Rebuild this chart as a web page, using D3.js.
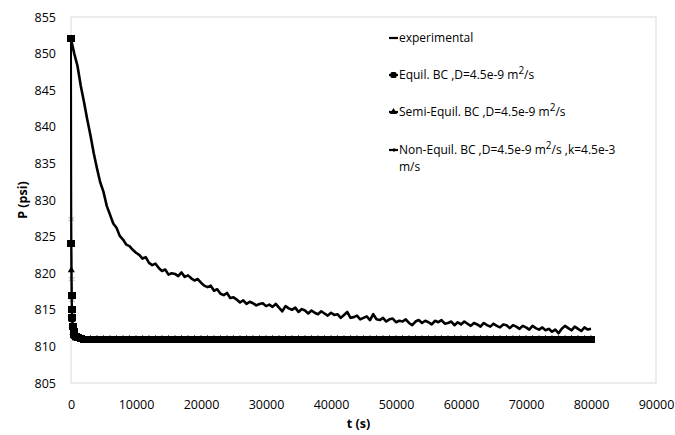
<!DOCTYPE html>
<html>
<head>
<meta charset="utf-8">
<script src="https://cdn.jsdelivr.net/npm/d3@7"></script>
<style>
  body { margin: 0; background: #fff; }
  text { font-family: "Open Sans", sans-serif; }
</style>
</head>
<body>
<div id="chart"></div>
<script>
// experimental pressure record (s, psi)
const expT = [0,500,1000,1500,2000,2500,3000,3500,4000,4500,5000,5500,6000,6500,7000,7500,8000,8500,9000,9500,
  10000,10500,11000,11500,12000,12500,13000,13500,14000,14500,15000,15500,16000,16500,17000,17500,18000,18500,19000,19500,
  20000,20500,21000,21500,22000,22500,23000,23500,24000,24500,25000,25500,26000,26500,27000,27500,28000,28500,29000,29500,
  30000,30500,31000,31500,32000,32500,33000,33500,34000,34500,35000,35500,36000,36500,37000,37500,38000,38500,39000,39500,
  40000,40500,41000,41500,42000,42500,43000,43500,44000,44500,45000,45500,46000,46500,47000,47500,48000,48500,49000,49500,
  50000,50500,51000,51500,52000,52500,53000,53500,54000,54500,55000,55500,56000,56500,57000,57500,58000,58500,59000,59500,
  60000,60500,61000,61500,62000,62500,63000,63500,64000,64500,65000,65500,66000,66500,67000,67500,68000,68500,69000,69500,
  70000,70500,71000,71500,72000,72500,73000,73500,74000,74500,75000,75500,76000,76500,77000,77500,78000,78500,79000,79500,
  80000];
const expP = [852.0,850.0,848.3,845.6,843.4,841.0,838.8,836.4,834.3,832.4,831.1,829.2,828.0,826.8,826.2,825.1,824.6,823.9,823.7,823.2,
  822.8,822.5,822.0,822.2,821.4,821.1,821.3,820.7,820.3,820.5,819.8,820.0,819.9,819.6,820.1,819.5,819.7,819.3,819.0,819.2,
  818.7,818.3,818.1,818.3,817.6,817.8,817.2,817.0,817.3,816.6,816.7,816.4,816.0,816.3,815.8,816.1,815.9,815.6,815.8,815.9,
  815.5,815.7,815.4,815.8,815.3,814.8,815.5,815.2,815.0,815.3,814.7,815.1,814.9,814.5,814.9,814.6,814.4,814.8,814.5,814.2,
  814.6,814.3,814.4,813.9,814.3,814.7,813.9,814.0,814.2,813.7,813.9,814.1,813.6,814.4,813.7,813.6,813.9,813.4,813.7,813.8,
  813.3,813.5,813.4,813.7,813.2,812.9,813.4,813.6,813.2,813.5,813.3,813.0,813.5,813.3,813.6,813.1,813.2,813.4,812.9,813.3,
  813.0,813.4,813.1,812.8,813.2,813.0,812.7,813.2,812.9,812.7,813.1,812.8,812.6,813.0,812.9,812.5,812.9,812.7,812.4,812.8,
  812.6,812.3,812.8,812.5,812.3,812.6,812.2,812.4,812.0,812.3,811.8,812.4,812.8,812.5,812.2,812.7,812.4,812.1,812.6,812.3,
  812.4];

// model output times (s)
const modelT = [0,50,100,150,200,300,400,500,700,1000,1500,2000,
  3000,4000,5000,6000,7000,8000,9000,10000,11000,12000,13000,14000,15000,16000,17000,18000,19000,20000,
  21000,22000,23000,24000,25000,26000,27000,28000,29000,30000,31000,32000,33000,34000,35000,36000,37000,38000,39000,40000,
  41000,42000,43000,44000,45000,46000,47000,48000,49000,50000,51000,52000,53000,54000,55000,56000,57000,58000,59000,60000,
  61000,62000,63000,64000,65000,66000,67000,68000,69000,70000,71000,72000,73000,74000,75000,76000,77000,78000,79000,80000];
const equilP = [852.0,824.1,817.0,815.0,813.9,812.7,812.0,811.6,811.3,811.15,811.05,811.0,
  811,811,811,811,811,811,811,811,811,811,811,811,811,811,811,811,811,811,
  811,811,811,811,811,811,811,811,811,811,811,811,811,811,811,811,811,811,811,811,
  811,811,811,811,811,811,811,811,811,811,811,811,811,811,811,811,811,811,811,811,
  811,811,811,811,811,811,811,811,811,811,811,811,811,811,811,811,811,811,811,811];
const semiP = [852.0,820.4,815.2,813.6,812.8,811.9,811.5,811.3,811.1,811.05,811.0,811.0,
  811,811,811,811,811,811,811,811,811,811,811,811,811,811,811,811,811,811,
  811,811,811,811,811,811,811,811,811,811,811,811,811,811,811,811,811,811,811,811,
  811,811,811,811,811,811,811,811,811,811,811,811,811,811,811,811,811,811,811,811,
  811,811,811,811,811,811,811,811,811,811,811,811,811,811,811,811,811,811,811,811];
const nonEquilP = [852.0,827.4,819.2,816.3,814.7,813.0,812.2,811.8,811.4,811.2,811.1,811.0,
  811,811,811,811,811,811,811,811,811,811,811,811,811,811,811,811,811,811,
  811,811,811,811,811,811,811,811,811,811,811,811,811,811,811,811,811,811,811,811,
  811,811,811,811,811,811,811,811,811,811,811,811,811,811,811,811,811,811,811,811,
  811,811,811,811,811,811,811,811,811,811,811,811,811,811,811,811,811,811,811,811];

const xTicks = [0,10000,20000,30000,40000,50000,60000,70000,80000,90000];
const yTicks = [805,810,815,820,825,830,835,840,845,850,855];

const margin = {top: 17, right: 19, bottom: 52, left: 71},
  width = 675 - margin.left - margin.right,
  height = 435 - margin.top - margin.bottom;

const svg = d3.select("#chart")
  .append("svg")
    .attr("width", 675)
    .attr("height", 435)
  .append("g")
    .attr("transform", "translate(" + margin.left + "," + margin.top + ")");

const x = d3.scaleLinear().domain([0, 90000]).range([0, width]);
const y = d3.scaleLinear().domain([805, 855]).range([height, 0]);

// plot area frame
svg.append("rect")
  .attr("width", width)
  .attr("height", height)
  .attr("fill", "none")
  .attr("stroke", "#d9d9d9")
  .attr("stroke-width", 1);

const xAxis = svg.append("g")
  .attr("transform", "translate(0," + height + ")")
  .call(d3.axisBottom(x).tickValues(xTicks).tickSize(0).tickPadding(17).tickFormat(d3.format("d")));
const yAxis = svg.append("g")
  .call(d3.axisLeft(y).tickValues(yTicks).tickSize(0).tickPadding(15));
[xAxis, yAxis].forEach(a => {
  a.select(".domain").remove();
  a.selectAll("text").attr("font-size", 12.5).attr("fill", "#000").attr("font-family", "Open Sans, sans-serif");
});

// axis titles
svg.append("text")
  .attr("x", x(45000) - 5)
  .attr("y", height + 45)
  .attr("text-anchor", "middle")
  .attr("font-size", 12.5)
  .attr("font-weight", "bold")
  .text("t (s)");
svg.append("text")
  .attr("transform", "translate(" + (-44) + "," + y(830) + ") rotate(-90)")
  .attr("text-anchor", "middle")
  .attr("font-size", 12.5)
  .attr("font-weight", "bold")
  .text("P (psi)");

const line = d3.line();

function modelPts(ps) { return modelT.map((t, i) => [x(t), y(ps[i])]); }

// non-equilibrium model
svg.append("path")
  .attr("d", line(modelPts(nonEquilP)))
  .attr("fill", "none").attr("stroke", "#000").attr("stroke-width", 1.5);
svg.append("g").selectAll("path")
  .data(modelPts(nonEquilP))
  .enter().append("path")
    .attr("transform", d => "translate(" + d[0] + "," + d[1] + ")")
    .attr("d", d3.symbol(d3.symbolAsterisk, 30)())
    .attr("fill", "none").attr("stroke", "#aaa").attr("stroke-width", 1);

// semi-equilibrium model
svg.append("path")
  .attr("d", line(modelPts(semiP)))
  .attr("fill", "none").attr("stroke", "#000").attr("stroke-width", 1.5);
svg.append("g").selectAll("path")
  .data(modelPts(semiP))
  .enter().append("path")
    .attr("transform", d => "translate(" + d[0] + "," + d[1] + ")")
    .attr("d", d3.symbol(d3.symbolTriangle, 22)())
    .attr("fill", "#000");

// equilibrium model
svg.append("path")
  .attr("d", line(modelPts(equilP)))
  .attr("fill", "none").attr("stroke", "#000").attr("stroke-width", 2);
svg.append("g").selectAll("rect")
  .data(modelPts(equilP))
  .enter().append("rect")
    .attr("x", d => d[0] - 4)
    .attr("y", d => d[1] - 3.5)
    .attr("width", 8)
    .attr("height", 7)
    .attr("shape-rendering", "crispEdges")
    .attr("fill", "#000");

// experimental
svg.append("path")
  .attr("d", line(expT.map((t, i) => [x(t), y(expP[i])])))
  .attr("fill", "none")
  .attr("stroke", "#000")
  .attr("stroke-width", 2.6)
  .attr("stroke-linejoin", "round");

// legend
const legend = svg.append("g").attr("transform", "translate(" + (389 - margin.left) + "," + (0) + ")");
const legRows = [
  {y: 21, label: "experimental"},
  {y: 58, label: "Equil. BC ,D=4.5e-9 m", sup: "2", tail: "/s"},
  {y: 95, label: "Semi-Equil. BC ,D=4.5e-9 m", sup: "2", tail: "/s"},
  {y: 133, label: "Non-Equil. BC ,D=4.5e-9 m", sup: "2", tail: "/s ,k=4.5e-3", line2: "m/s"}
];
legRows.forEach((r, i) => {
  legend.append("line")
    .attr("x1", 0).attr("x2", 9)
    .attr("y1", r.y).attr("y2", r.y)
    .attr("stroke", "#000").attr("stroke-width", 2.2);
  if (i === 1) {
    legend.append("rect").attr("x", 1.5).attr("y", r.y - 3).attr("width", 6).attr("height", 6).attr("rx", 1.5).attr("fill", "#000");
  } else if (i === 2) {
    legend.append("path").attr("transform", "translate(4.5," + r.y + ")")
      .attr("d", d3.symbol(d3.symbolTriangle, 22)()).attr("fill", "#000");
  } else if (i === 3) {
    legend.append("line").attr("x1", 5).attr("x2", 5).attr("y1", r.y - 2).attr("y2", r.y + 2)
      .attr("stroke", "#000").attr("stroke-width", 1);
  }
  const t = legend.append("text")
    .attr("x", 10)
    .attr("y", r.y + 4)
    .attr("font-size", 12)
    .attr("fill", "#000");
  t.append("tspan").text(r.label);
  if (r.sup) {
    t.append("tspan").attr("dy", -5).attr("font-size", 10).text(r.sup);
    t.append("tspan").attr("dy", 5).text(r.tail);
  }
  if (r.line2) {
    legend.append("text")
      .attr("x", 10)
      .attr("y", r.y + 21)
      .attr("font-size", 12)
      .attr("fill", "#000")
      .text(r.line2);
  }
});
</script>
</body>
</html>
